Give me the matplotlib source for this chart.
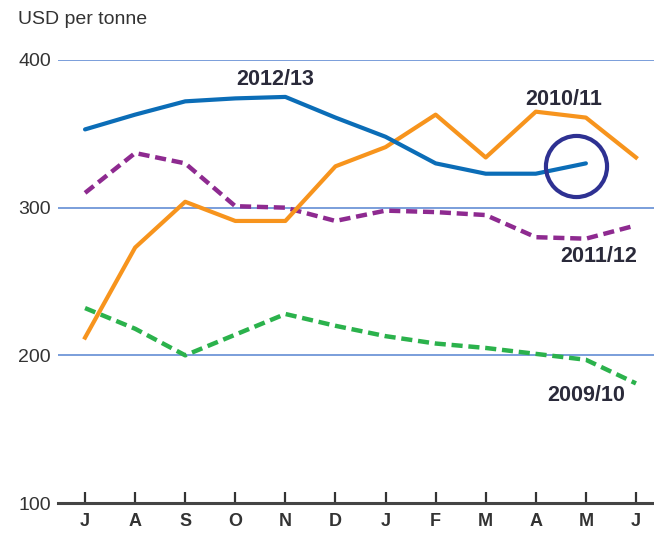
import matplotlib
matplotlib.use("Agg")
import matplotlib.pyplot as plt

months = ["J", "A", "S", "O", "N", "D", "J", "F", "M", "A", "M", "J"]
s2012_13 = [353, 363, 372, 374, 375, 361, 348, 330, 323, 323, 330]
s2010_11 = [212, 273, 304, 291, 291, 328, 341, 363, 334, 365, 361, 334]
s2011_12 = [310, 337, 330, 301, 300, 291, 298, 297, 295, 280, 279, 288]
s2009_10 = [232, 218, 200, 214, 228, 220, 213, 208, 205, 201, 197, 181]
yticks = [100, 200, 300, 400]

plt.rcParams['font.family'] = ['Liberation Sans', 'DejaVu Sans']

fig = plt.figure(figsize=(6.54, 5.39), dpi=100)
W, H = 654, 539
ax = fig.add_axes([58 / W, (H - 503) / H, 1 - 58 / W, (503 - 60) / H])

x = list(range(len(months)))
blue = "#0b6db7"
orange = "#f7941d"
purple = "#8e2a90"
green = "#2bb24c"

for v in yticks[1:]:
    ax.axhline(v, color="#7096d8", lw=1.3, zorder=1)

ax.plot(x[:len(s2009_10)], s2009_10, color=green, lw=3.2, dashes=(2.5, 1.3),
        solid_joinstyle='round', zorder=3)
ax.plot(x[:len(s2011_12)], s2011_12, color=purple, lw=3.2, dashes=(2.5, 1.3),
        solid_joinstyle='round', zorder=3)
ax.plot(x[:len(s2010_11)], s2010_11, color=orange, lw=3.0, zorder=4,
        solid_joinstyle='round')
ax.plot(x[:len(s2012_13)], s2012_13, color=blue, lw=3.0, zorder=5,
        solid_capstyle='round', solid_joinstyle='round')

# highlight circle around latest 2012/13 value
ax.plot([9.8], [328], marker='o', markersize=44, mfc='none', mec="#2e3192",
        mew=3.0, zorder=6, clip_on=False)

ax.set_xlim(-0.54, 11.36)
ax.set_ylim(100, 400)
ax.set_xticks(x)
ax.set_xticklabels(months, fontsize=13, fontweight='bold', color="#333333")
ax.set_yticks(yticks)
ax.set_yticklabels([str(v) for v in yticks], fontsize=14, color="#333333")
ax.tick_params(axis='x', direction='in', length=8, width=1.6, color="#333333", pad=7)
ax.tick_params(axis='y', length=0, pad=5)
for s in ["top", "right", "left"]:
    ax.spines[s].set_visible(False)
ax.spines["bottom"].set_linewidth(2.2)
ax.spines["bottom"].set_color("#444444")
ax.spines["bottom"].set_zorder(7)

lab = dict(fontsize=15.5, fontweight='bold', color="#2a2a3a", ha='center', va='center')
ax.text(3.8, 387, "2012/13", **lab)
ax.text(9.55, 373, "2010/11", **lab)
ax.text(10.25, 267, "2011/12", **lab)
ax.text(10.0, 173, "2009/10", **lab)

fig.text(18 / W, 1 - 20 / H, "USD per tonne", fontsize=14, color="#333333",
         ha='left', va='center')

fig.savefig("out.png", dpi=100)
